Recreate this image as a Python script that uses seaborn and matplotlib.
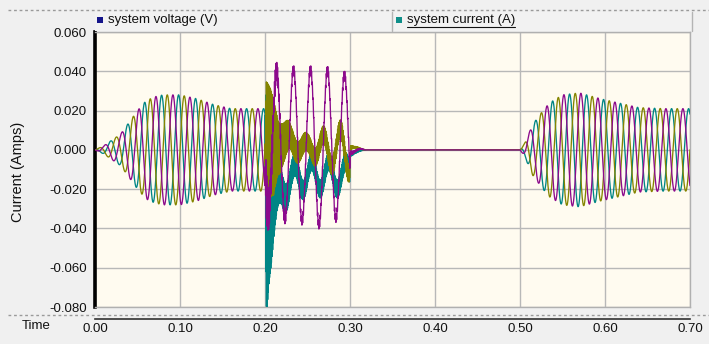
import numpy as np
import pandas as pd
import matplotlib
matplotlib.use("Agg")
import matplotlib.pyplot as plt
from matplotlib.lines import Line2D
from matplotlib.patches import Rectangle
import seaborn as sns

# ---------------------------------------------------------------- data
FREQ_HZ = 50.0            # system frequency
SAMPLE_DT = 2e-5          # solver time step (s)

x_ticks = [0.00, 0.10, 0.20, 0.30, 0.40, 0.50, 0.60, 0.70]
x_tick_labels = ["0.00", "0.10", "0.20", "0.30", "0.40", "0.50", "0.60", "0.70"]
y_ticks = [-0.080, -0.060, -0.040, -0.020, 0.000, 0.020, 0.040, 0.060]
y_tick_labels = ["-0.080", "-0.060", "-0.040", "-0.020", "0.000", "0.020", "0.040", "0.060"]

legend_labels = ["system voltage (V)", "system current (A)"]
legend_colors = ["#14148a", "#0f8f8a"]

phase_names = ["Ic", "Ib", "Ia"]                      # draw order
phase_colors = ["#008585", "#858500", "#8c0a8c"]
phase_shift_deg = [120.0, 0.0, -120.0]
ripple_hz = [1370.0, 1230.0, 1100.0]
ripple_phase = [2.6, 1.3, 0.0]

# first energisation: peak current envelope (A)
energise1_t = [0.000, 0.010, 0.020, 0.030, 0.040, 0.050, 0.060, 0.070, 0.080,
               0.100, 0.120, 0.140, 0.160, 0.180, 0.200]
energise1_amp = [0.000, 0.002, 0.005, 0.008, 0.014, 0.020, 0.025, 0.027, 0.028,
                 0.028, 0.026, 0.023, 0.021, 0.021, 0.021]

# re-energisation after the breaker recloses
energise2_t = [0.500, 0.505, 0.515, 0.527, 0.535, 0.550, 0.570, 0.595,
               0.615, 0.640, 0.670, 0.700]
energise2_amp = [0.000, 0.003, 0.013, 0.020, 0.024, 0.028, 0.029, 0.026,
                 0.024, 0.0215, 0.021, 0.021]

# fault interval: dc offset, 50 Hz component and switching ripple per phase
fault_t = [0.2000, 0.2012, 0.2020, 0.2050, 0.2100, 0.2150, 0.2200, 0.2300,
           0.2500, 0.2700, 0.2900, 0.2995, 0.3005, 0.3050, 0.3200]
fault_peak_time = [0.2150, 0.2085, 0.2135]   # Ic, Ib, Ia

fault_dc_a = [0.000, 0.000, 0.000, 0.000, 0.002, 0.003, 0.003, 0.003,
              0.002, 0.001, 0.003, 0.003, 0.000, 0.000, 0.000]
fault_ac_a = [0.021, 0.025, 0.028, 0.032, 0.036, 0.038, 0.038, 0.038,
              0.039, 0.040, 0.036, 0.034, 0.002, 0.001, 0.000]
fault_ripple_a = [0.000, 0.014, 0.012, 0.010, 0.006, 0.004, 0.003, 0.002,
                  0.002, 0.002, 0.002, 0.002, 0.001, 0.0005, 0.000]

fault_dc_b = [0.000, 0.010, 0.006, 0.002, -0.002, 0.003, 0.006, 0.003,
              0.001, 0.001, 0.000, 0.000, 0.002, 0.001, 0.000]
fault_ac_b = [0.000, 0.002, 0.003, 0.003, 0.003, 0.004, 0.004, 0.004,
              0.003, 0.007, 0.011, 0.012, 0.001, 0.0005, 0.000]
fault_ripple_b = [0.000, 0.026, 0.030, 0.029, 0.024, 0.014, 0.011, 0.006,
                  0.0045, 0.0045, 0.0045, 0.0045, 0.001, 0.0005, 0.000]

fault_dc_c = [0.000, -0.020, -0.040, -0.038, -0.032, -0.026, -0.020, -0.015,
              -0.013, -0.013, -0.013, -0.013, -0.002, -0.001, 0.000]
fault_ac_c = [0.000, 0.002, 0.004, 0.006, 0.007, 0.007, 0.007, 0.007,
              0.007, 0.007, 0.007, 0.007, 0.001, 0.0005, 0.000]
fault_ripple_c = [0.000, 0.055, 0.040, 0.022, 0.014, 0.010, 0.008, 0.006,
                  0.0045, 0.0045, 0.0045, 0.0045, 0.001, 0.0005, 0.000]

fault_dc = [fault_dc_c, fault_dc_b, fault_dc_a]
fault_ac = [fault_ac_c, fault_ac_b, fault_ac_a]
fault_ripple = [fault_ripple_c, fault_ripple_b, fault_ripple_a]

# ------------------------------------------------------- build traces
t = np.arange(0.0, 0.7 + SAMPLE_DT / 2, SAMPLE_DT)
w = 2 * np.pi * FREQ_HZ
frames = []
for k, name in enumerate(phase_names):
    y = np.zeros_like(t)
    shift = np.deg2rad(phase_shift_deg[k])

    m1 = t < 0.2
    y[m1] = np.interp(t[m1], energise1_t, energise1_amp) * np.sin(w * t[m1] + shift)

    m2 = (t >= 0.2) & (t < 0.32)
    tf = t[m2]
    y[m2] = (np.interp(tf, fault_t, fault_dc[k])
             + np.interp(tf, fault_t, fault_ac[k]) * np.cos(w * (tf - fault_peak_time[k]))
             + np.interp(tf, fault_t, fault_ripple[k])
             * np.sin(2 * np.pi * ripple_hz[k] * tf + ripple_phase[k]))

    m3 = t >= 0.5
    y[m3] = np.interp(t[m3], energise2_t, energise2_amp) * np.sin(w * (t[m3] - 0.5) + shift)

    frames.append(pd.DataFrame({"time": t, "current": y, "phase": name}))
df = pd.concat(frames, ignore_index=True)

# ---------------------------------------------------------------- plot
sns.set_style("white")
plt.rcParams["font.family"] = ["Liberation Sans", "DejaVu Sans"]

W_PX, H_PX = 709, 344
fig = plt.figure(figsize=(W_PX / 100, H_PX / 100), dpi=100)
fig.patch.set_facecolor("#f0f0f0")

def fx(px):
    return px / W_PX

def fy(px):
    return 1 - px / H_PX

L, R, T, B = 95, 690, 32, 307
ax = fig.add_axes([fx(L), fy(B), fx(R) - fx(L), fy(T) - fy(B)])
ax.set_facecolor("#fffbf0")

sns.lineplot(data=df, x="time", y="current", hue="phase", hue_order=phase_names,
             palette=phase_colors, estimator=None, sort=False, linewidth=0.95,
             legend=False, ax=ax, zorder=3)

ax.set_xlim(0.0, 0.7)
ax.set_ylim(-0.08, 0.06)
ax.set_xticks(x_ticks)
ax.set_xticklabels([])
ax.set_yticks(y_ticks)
ax.set_yticklabels(y_tick_labels)
ax.set_xlabel("")
ax.set_ylabel("")
ax.grid(True, color="#b8b8b8", linewidth=1.0, zorder=0)
ax.set_axisbelow(True)
ax.tick_params(axis="x", length=0)
ax.tick_params(axis="y", direction="out", length=4, width=0.8, color="#202020",
               labelsize=9.5, pad=2, labelcolor="#111111")
for side in ["top", "right", "bottom"]:
    ax.spines[side].set_color("#b0b0b0")
    ax.spines[side].set_linewidth(1.0)
ax.spines["left"].set_color("black")
ax.spines["left"].set_linewidth(2.6)

# separate time axis below the plot
ax_t = fig.add_axes([fx(L), fy(319), fx(R) - fx(L), 1e-4])
ax_t.set_facecolor("none")
ax_t.set_xlim(0.0, 0.7)
ax_t.set_xticks(x_ticks)
ax_t.set_xticklabels(x_tick_labels)
ax_t.set_yticks([])
for side in ["top", "left", "right"]:
    ax_t.spines[side].set_visible(False)
ax_t.spines["bottom"].set_color("#303030")
ax_t.spines["bottom"].set_linewidth(1.2)
ax_t.tick_params(axis="x", direction="out", length=2.5, width=0.8, color="#303030",
                 labelsize=9.5, pad=0.3, labelcolor="#111111")
fig.text(fx(22), fy(326), "Time", fontsize=9.5, ha="left", va="center", color="#111111")

fig.text(fx(18), fy(172), "Current (Amps)", rotation=90, fontsize=10.5,
         ha="center", va="center", color="#111111")

# dashed panel separators
for ypx in (10, 315):
    fig.add_artist(Line2D([fx(8), 1.0], [fy(ypx), fy(ypx)], color="#9a9a9a",
                          linewidth=1.0, linestyle=(0, (2, 2))))

# legend strip along the top of the plot
fig.add_artist(Rectangle((fx(L), fy(31)), fx(692) - fx(L), fy(12) - fy(31),
                         facecolor="#f2f2f2", edgecolor="none"))
for xpx in (392, 692):
    fig.add_artist(Line2D([fx(xpx), fx(xpx)], [fy(31), fy(12)],
                          color="#b4b4b4", linewidth=1.0))
legend_x = [97, 396]
texts = []
for xpx, label, col in zip(legend_x, legend_labels, legend_colors):
    fig.add_artist(Rectangle((fx(xpx), fy(23)), fx(6), fx(6) * W_PX / H_PX,
                             facecolor=col, edgecolor="none"))
    texts.append(fig.text(fx(xpx + 11), fy(20), label, fontsize=9.5, ha="left",
                          va="center", color="#111111"))

fig.canvas.draw()
bb = texts[1].get_window_extent()
fig.add_artist(Line2D([bb.x0 / W_PX, bb.x1 / W_PX], [fy(27), fy(27)],
                      color="#111111", linewidth=0.8))

fig.savefig("out.png", dpi=100, facecolor=fig.get_facecolor())
